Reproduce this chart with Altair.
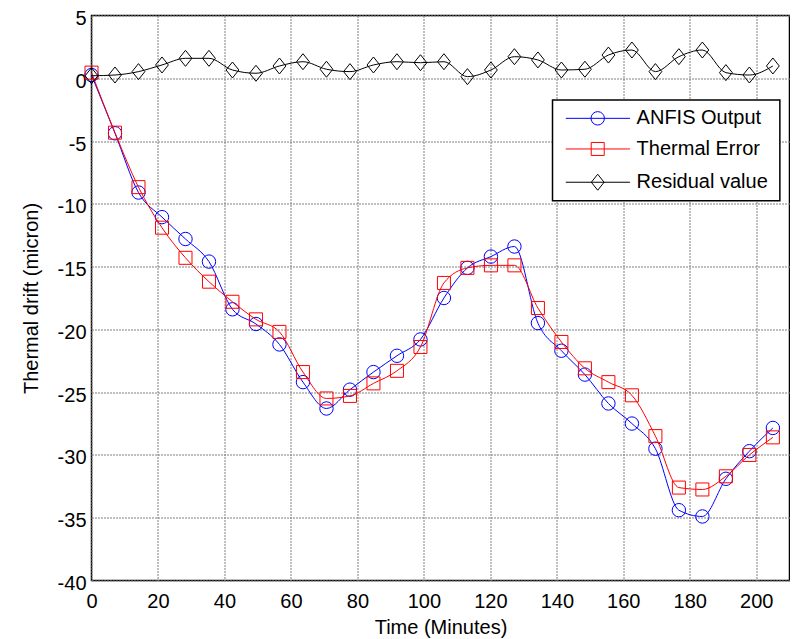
import altair as alt
import pandas as pd

# ---- data ----
time_min = [0, 7.07, 14.14, 21.21, 28.28, 35.34, 42.41, 49.48, 56.55, 63.62,
            70.69, 77.76, 84.83, 91.9, 98.97, 106.03, 113.1, 120.17, 127.24, 134.31,
            141.38, 148.45, 155.52, 162.59, 169.66, 176.72, 183.79, 190.86, 197.93, 205.0]
anfis_output = [0.26, -4.38, -9.1, -11.06, -12.8, -14.6, -18.4, -19.57, -21.2, -24.2,
                -26.3, -24.8, -23.4, -22.1, -20.8, -17.5, -15.1, -14.2, -13.4, -19.5,
                -21.7, -23.6, -25.9, -27.5, -29.5, -34.4, -34.9, -31.9, -29.7, -27.85]
thermal_error = [0.45, -4.33, -8.67, -11.9, -14.3, -16.2, -17.8, -19.2, -20.2, -23.4,
                 -25.5, -25.3, -24.3, -23.3, -21.4, -16.3, -15.1, -14.9, -14.9, -18.3,
                 -21.0, -23.1, -24.2, -25.25, -28.5, -32.6, -32.75, -31.7, -30.0, -28.6]
residual_value = [0.2, 0.26, 0.53, 1.06, 1.59, 1.59, 0.66, 0.4, 0.98, 1.32,
                  0.72, 0.53, 1.06, 1.32, 1.24, 1.32, 0.13, 0.66, 1.72, 1.46,
                  0.66, 0.72, 1.85, 2.25, 0.53, 1.72, 2.25, 0.45, 0.26, 0.98]

series_names = ["ANFIS Output", "Thermal Error", "Residual value"]
series_colors = ["#0000FF", "#FF0000", "#000000"]
x_ticks = [0, 20, 40, 60, 80, 100, 120, 140, 160, 180, 200]
y_ticks = [-40, -35, -30, -25, -20, -15, -10, -5, 0, 5]

DIAMOND = "M0,-1L0.8,0L0,1L-0.8,0Z"
series_shapes = ["circle", "square", DIAMOND]
series_sizes = [180, 169, 256]

FONT = "Liberation Sans"

df = pd.DataFrame({"t": time_min, "anfis": anfis_output,
                   "thermal": thermal_error, "residual": residual_value})

xscale = alt.Scale(domain=[0, 210], nice=False, zero=False)
yscale = alt.Scale(domain=[-40, 5], nice=False, zero=False)

xaxis = alt.Axis(values=x_ticks, title="Time (Minutes)", grid=True, ticks=False,
                 tickSize=0, domain=False, labelPadding=11, labelFontSize=20,
                 labelFlush=False, labelOverlap=False,
                 labelFont=FONT, labelColor="#000", titleFont=FONT, titleFontSize=20,
                 titleFontWeight="normal", titleColor="#000", titleBaseline="bottom",
                 titleY=57, labelExpr="'' + datum.value")
yaxis = alt.Axis(values=y_ticks, title="Thermal drift (micron)", grid=True, ticks=False,
                 tickSize=0, domain=False, labelPadding=5.5, labelFontSize=20,
                 labelFlush=False, labelOverlap=False, labelOffset=3,
                 labelFont=FONT, labelColor="#000", titleFont=FONT, titleFontSize=20,
                 titleFontWeight="normal", titleColor="#000", titleAngle=270,
                 titleAlign="center", titleBaseline="middle", titleX=-60.5, titleY=282.5,
                 labelExpr="'' + datum.value")


def X(field):
    return alt.X(field, type="quantitative", scale=xscale, axis=xaxis)


def Y(field):
    return alt.Y(field, type="quantitative", scale=yscale, axis=yaxis)


layers = []
for col, name, color, shape, size in zip(["anfis", "thermal", "residual"], series_names,
                                         series_colors, series_shapes, series_sizes):
    base = alt.Chart(df)
    layers.append(base.mark_line(color=color, strokeWidth=1, interpolate="monotone")
                  .encode(x=X("t"), y=Y(col)))
    layers.append(base.mark_point(color=color, shape=shape, size=size, filled=False,
                                  strokeWidth=1, opacity=1)
                  .encode(x=X("t"), y=Y(col)))

# ---- legend (placed in data coordinates) ----
legend_box = pd.DataFrame({"t": [138.7], "t2": [207.1], "v": [-1.73], "v2": [-9.75]})
legend_rows = pd.DataFrame({
    "label": series_names,
    "color": series_colors,
    "shape": series_shapes,
    "size": series_sizes,
    "v": [-3.19, -5.63, -8.28],
    "t": [142.7, 142.7, 142.7],
    "t2": [162.0, 162.0, 162.0],
    "tm": [152.3, 152.3, 152.3],
    "tt": [164.0, 164.0, 164.0],
})

layers.append(alt.Chart(legend_box).mark_rect(fill="white", stroke="black", strokeWidth=1.5)
              .encode(x=X("t"), x2="t2", y=Y("v"), y2="v2"))
layers.append(alt.Chart(legend_rows).mark_rule(strokeWidth=1)
              .encode(x=X("t"), x2="t2", y=Y("v"),
                      color=alt.Color("color:N", scale=None)))
layers.append(alt.Chart(legend_rows).mark_point(filled=False, strokeWidth=1, opacity=1)
              .encode(x=X("tm"), y=Y("v"),
                      color=alt.Color("color:N", scale=None),
                      shape=alt.Shape("shape:N", scale=None),
                      size=alt.Size("size:Q", scale=None)))
layers.append(alt.Chart(legend_rows).mark_text(align="left", baseline="middle", fontSize=20,
                                               font=FONT, color="black")
              .encode(x=X("tt"), y=Y("v"), text="label:N"))

chart = alt.layer(*layers).properties(
    width=698, height=565,
    autosize=alt.AutoSizeParams(type="none"),
    padding={"left": 83.5, "top": 7.5, "right": 0, "bottom": 60},
    background="white",
).configure_view(stroke="black", strokeWidth=1.5).configure_axis(
    gridColor="#808080", gridDash=[2, 1], gridWidth=1, gridOpacity=1
)

chart.save("out.html", embed_options={"renderer": "svg", "actions": False})
